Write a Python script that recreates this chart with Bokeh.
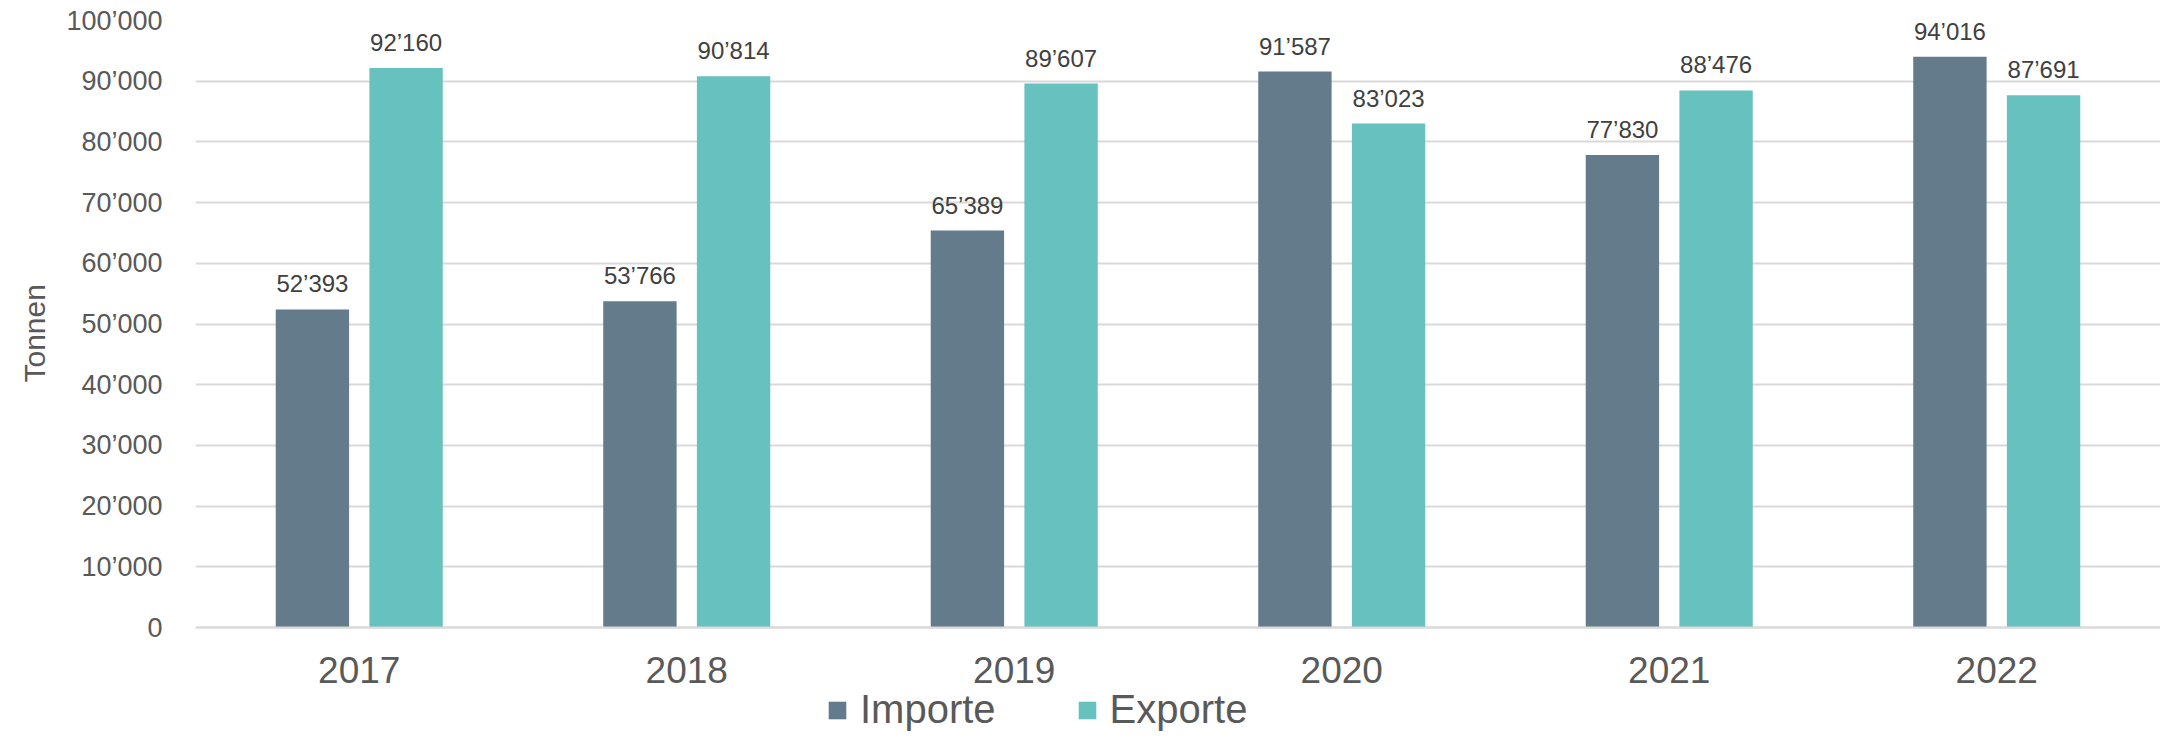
from bokeh.plotting import figure
from bokeh.models import ColumnDataSource, FactorRange, Range1d, FixedTicker, LabelSet, Legend, LegendItem, Title
from bokeh.transform import dodge
from bokeh.core.properties import value
from bokeh.embed import file_html
from bokeh.resources import INLINE

years = ["2017", "2018", "2019", "2020", "2021", "2022"]
importe = [52393, 53766, 65389, 91587, 77830, 94016]
exporte = [92160, 90814, 89607, 83023, 88476, 87691]
y_ticks = [0, 10000, 20000, 30000, 40000, 50000, 60000, 70000, 80000, 90000, 100000]
y_tick_labels = ["0", "10\u2019000", "20\u2019000", "30\u2019000", "40\u2019000", "50\u2019000",
                 "60\u2019000", "70\u2019000", "80\u2019000", "90\u2019000", "100\u2019000"]

def fmt(v):
    return f"{v:,}".replace(",", "\u2019")

FONT = "Liberation Sans"
C_IMP = "#637B8A"
C_EXP = "#67C2BF"
GREY = "#595959"

# layout: frame spans 20..732 px; value 0 sits 105 px above the frame bottom
FRAME_TOP, FIG_H = 20, 732
ZERO_PX = 627
Y_MAX = 100000
Y_MIN = -Y_MAX * (FIG_H - ZERO_PX) / (ZERO_PX - FRAME_TOP)

src = ColumnDataSource(dict(
    year=years, imp=importe, exp=exporte,
    imp_lbl=[fmt(v) for v in importe], exp_lbl=[fmt(v) for v in exporte],
))

p = figure(width=2160, height=FIG_H, x_range=FactorRange(*years), y_range=Range1d(Y_MIN, Y_MAX),
           output_backend="svg", toolbar_location=None,
           min_border_left=195, min_border_right=0, min_border_top=FRAME_TOP, min_border_bottom=0)
p.outline_line_color = None

OFF = 0.143
W = 0.224
r_imp = p.vbar(x=dodge("year", -OFF, range=p.x_range), top="imp", bottom=0, width=W, source=src,
               fill_color=C_IMP, line_color=None)
r_exp = p.vbar(x=dodge("year", OFF, range=p.x_range), top="exp", bottom=0, width=W, source=src,
               fill_color=C_EXP, line_color=None)

for col, off in (("imp", -OFF), ("exp", OFF)):
    p.add_layout(LabelSet(x=dodge("year", off, range=p.x_range), y=col, text=col + "_lbl",
                          source=src, y_offset=17, text_align="center", text_baseline="alphabetic",
                          text_font=value(FONT), text_font_size=value("24px"), text_color="#404040"))

# y axis
p.yaxis.ticker = FixedTicker(ticks=y_ticks)
p.yaxis.major_label_overrides = {t: l for t, l in zip(y_ticks, y_tick_labels)}
p.yaxis.axis_line_color = None
p.yaxis.major_tick_line_color = None
p.yaxis.minor_tick_line_color = None
p.yaxis.major_label_standoff = 27
p.yaxis.major_label_text_font = FONT
p.yaxis.major_label_text_font_size = "27px"
p.yaxis.major_label_text_color = GREY

p.add_layout(Title(text="Tonnen", align="left", offset=350, standoff=25,
                   text_font=FONT, text_font_size="30px", text_font_style="normal",
                   text_color=GREY), "left")

# x axis, pinned at value 0
p.xaxis.fixed_location = 0
p.xaxis.axis_line_color = "#D9D9D9"
p.xaxis.axis_line_width = 2
p.xaxis.major_tick_line_color = None
p.xaxis.minor_tick_line_color = None
p.xaxis.major_label_standoff = 23
p.xaxis.major_label_text_font = FONT
p.xaxis.major_label_text_font_size = "37px"
p.xaxis.major_label_text_color = GREY

p.xgrid.grid_line_color = None
p.ygrid.grid_line_color = "#D9D9D9"
p.ygrid.grid_line_width = 2

legend = Legend(items=[LegendItem(label="Importe", renderers=[r_imp]),
                       LegendItem(label="Exporte", renderers=[r_exp])],
                orientation="horizontal", location=(631, 0),
                glyph_width=22, glyph_height=22, label_standoff=12, spacing=80,
                padding=0, margin=0, border_line_color=None, background_fill_alpha=0,
                label_text_font=FONT, label_text_font_size="40px", label_text_color=GREY)
p.add_layout(legend, "center")

open("out.html", "w").write(file_html(p, INLINE))
